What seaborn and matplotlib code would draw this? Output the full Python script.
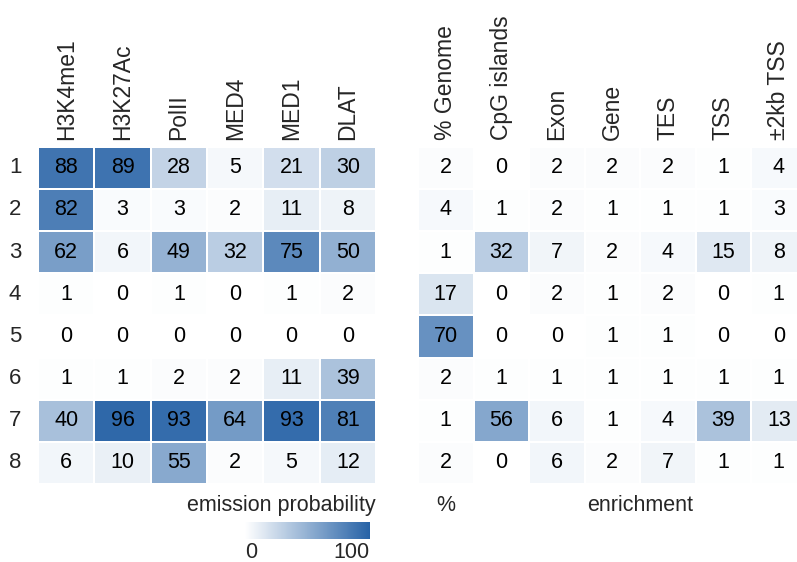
import numpy as np
import pandas as pd
import matplotlib
matplotlib.use("Agg")
import matplotlib.pyplot as plt
import seaborn as sns
from matplotlib.colors import LinearSegmentedColormap

states = ["1", "2", "3", "4", "5", "6", "7", "8"]
marks = ["H3K4me1", "H3K27Ac", "PolII", "MED4", "MED1", "DLAT"]
emission = [
    [88, 89, 28, 5, 21, 30],
    [82, 3, 3, 2, 11, 8],
    [62, 6, 49, 32, 75, 50],
    [1, 0, 1, 0, 1, 2],
    [0, 0, 0, 0, 0, 0],
    [1, 1, 2, 2, 11, 39],
    [40, 96, 93, 64, 93, 81],
    [6, 10, 55, 2, 5, 12],
]
genome_pct = [2, 4, 1, 17, 70, 2, 1, 2]
features = ["CpG islands", "Exon", "Gene", "TES", "TSS", "±2kb TSS"]
enrichment = [
    [0, 2, 2, 2, 1, 4],
    [1, 2, 1, 1, 1, 3],
    [32, 7, 2, 4, 15, 8],
    [0, 2, 1, 2, 0, 1],
    [0, 0, 1, 1, 0, 0],
    [1, 1, 1, 1, 1, 1],
    [56, 6, 1, 4, 39, 13],
    [0, 6, 2, 7, 1, 1],
]

sns.set_style("white")
plt.rcParams["font.family"] = ["Liberation Sans", "DejaVu Sans"]

left_df = pd.DataFrame(emission, index=states, columns=marks)
right_df = pd.DataFrame(enrichment, index=states, columns=features)
right_df.insert(0, "% Genome", genome_pct)

cmap = LinearSegmentedColormap.from_list("wb", ["#ffffff", "#2662a6"])

fig = plt.figure(figsize=(7.97, 5.62), dpi=100)
ax1 = fig.add_axes([0.0477, 0.1388, 0.4241, 0.6002])
ax2 = fig.add_axes([0.5245, 0.1388, 0.4875, 0.6002])
cax = fig.add_axes([0.3074, 0.0409, 0.1568, 0.0308])

annot_kws = {"size": 15.5, "color": "black"}
sns.heatmap(left_df, ax=ax1, cmap=cmap, vmin=0, vmax=100, annot=True, fmt="d",
            annot_kws=annot_kws, linewidths=1.2, linecolor="white",
            cbar_ax=cax, cbar_kws={"orientation": "horizontal", "ticks": [0, 100]})
sns.heatmap(right_df, ax=ax2, cmap=cmap, vmin=0, vmax=100, annot=True, fmt="d",
            annot_kws=annot_kws, linewidths=1.2, linecolor="white", cbar=False)

for ax in (ax1, ax2):
    ax.xaxis.tick_top()
    ax.tick_params(axis="x", length=0, pad=5, labelsize=16.5, rotation=90)
    ax.tick_params(axis="y", length=0, pad=12, labelsize=16, rotation=0)
ax2.set_yticks([])
ax2.set_ylabel("")
ax1.set_ylabel("")

ax1.set_xlabel("")
ax2.set_xlabel("")
ax1.text(6, 8.5, "emission probability", ha="right", va="center", fontsize=15.5)
ax2.text(0.5, 8.5, "%", ha="center", va="center", fontsize=15.5)
ax2.text(4, 8.5, "enrichment", ha="center", va="center", fontsize=15.5)

cb = ax1.collections[0].colorbar
cb.outline.set_visible(False)
cax.tick_params(length=0, labelsize=15.5, pad=2)
labels = cax.get_xticklabels()
labels[0].set_horizontalalignment("left")
labels[1].set_horizontalalignment("right")

fig.savefig("out.png", dpi=100)
